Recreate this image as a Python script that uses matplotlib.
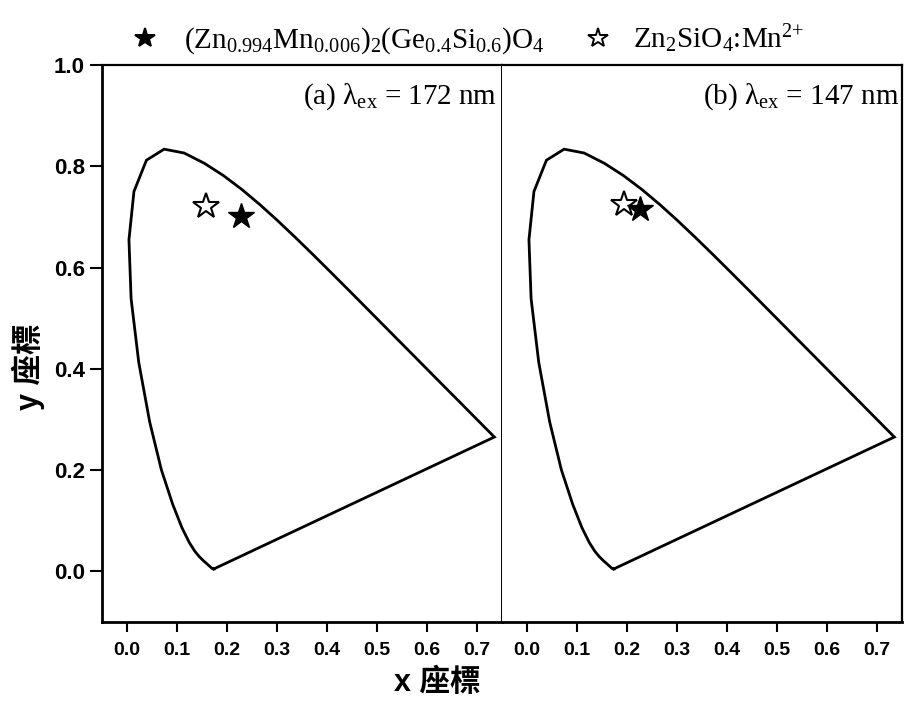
import numpy as np
import matplotlib
matplotlib.use("Agg")
import matplotlib.pyplot as plt
from matplotlib.lines import Line2D

plt.rcParams['mathtext.fontset'] = 'custom'
plt.rcParams['mathtext.rm'] = 'Liberation Serif'
plt.rcParams['mathtext.it'] = 'Liberation Serif:italic'

# CIE 1931 spectral locus (380-700 nm, 5 nm steps)
locus_x = [0.1741, 0.1740, 0.1738, 0.1736, 0.1733, 0.1730, 0.1726, 0.1721, 0.1714, 0.1703,
           0.1689, 0.1669, 0.1644, 0.1611, 0.1566, 0.1510, 0.1440, 0.1355, 0.1241, 0.1096,
           0.0913, 0.0687, 0.0454, 0.0235, 0.0082, 0.0039, 0.0139, 0.0389, 0.0743, 0.1142,
           0.1547, 0.1929, 0.2296, 0.2658, 0.3016, 0.3373, 0.3731, 0.4087, 0.4441, 0.4788,
           0.5125, 0.5448, 0.5752, 0.6029, 0.6270, 0.6482, 0.6658, 0.6801, 0.6915, 0.7006,
           0.7079, 0.7140, 0.7190, 0.7230, 0.7260, 0.7283, 0.7300, 0.7311, 0.7320, 0.7327,
           0.7334, 0.7340, 0.7344, 0.7346, 0.7347]
locus_y = [0.0050, 0.0050, 0.0049, 0.0049, 0.0048, 0.0048, 0.0048, 0.0048, 0.0051, 0.0058,
           0.0069, 0.0086, 0.0109, 0.0138, 0.0177, 0.0227, 0.0297, 0.0399, 0.0578, 0.0868,
           0.1327, 0.2007, 0.2950, 0.4127, 0.5384, 0.6548, 0.7502, 0.8120, 0.8338, 0.8262,
           0.8059, 0.7816, 0.7543, 0.7243, 0.6923, 0.6589, 0.6245, 0.5896, 0.5547, 0.5202,
           0.4866, 0.4544, 0.4242, 0.3965, 0.3725, 0.3514, 0.3340, 0.3197, 0.3083, 0.2993,
           0.2920, 0.2859, 0.2809, 0.2770, 0.2740, 0.2717, 0.2700, 0.2689, 0.2680, 0.2673,
           0.2666, 0.2660, 0.2656, 0.2654, 0.2653]

# CIE coordinates of the two phosphors in each panel
new_xy = [(0.228, 0.702), (0.225, 0.715)]   # (Zn,Mn)2(Ge,Si)O4
ref_xy = [(0.158, 0.722), (0.194, 0.725)]   # Zn2SiO4:Mn2+
panel_text = ['(a) λ$_{\\mathregular{ex}}$ = 172 nm', '(b) λ$_{\\mathregular{ex}}$ = 147 nm']
series_names = ['(Zn$_{0.994}$Mn$_{0.006}$)$_2$(Ge$_{0.4}$Si$_{0.6}$)O$_4$',
                'Zn$_2$SiO$_4$:Mn$^{2{+}}$']
xticks = [0.0, 0.1, 0.2, 0.3, 0.4, 0.5, 0.6, 0.7]
yticks = [0.0, 0.2, 0.4, 0.6, 0.8, 1.0]

W, H = 905, 708
fig = plt.figure(figsize=(W / 100, H / 100), dpi=100)
ax1 = fig.add_axes([102 / W, 86 / H, 400 / W, 557 / H])
ax2 = fig.add_axes([502 / W, 86 / H, 400 / W, 557 / H])

cx = locus_x + [locus_x[0]]
cy = locus_y + [locus_y[0]]

text_right = [0.9875, 0.9925]
for i, ax in enumerate([ax1, ax2]):
    ax.plot(cx, cy, color='black', lw=2, solid_joinstyle='miter')
    ax.plot(ref_xy[i][0], ref_xy[i][1], marker='*', ms=19, mfc='white',
            mec='black', mew=1.5, ls='none')
    ax.plot(new_xy[i][0], new_xy[i][1], marker='*', ms=19, mfc='black',
            mec='black', ls='none')
    ax.set_xlim(-0.05, 0.75)
    ax.set_ylim(-0.1, 1.0)
    ax.set_xticks(xticks)
    ax.set_xticklabels(['%.1f' % v for v in xticks], fontfamily='Liberation Sans',
                       fontweight='bold', fontsize=14)
    ax.tick_params(axis='x', direction='out', length=7.5, width=1.5, pad=7)
    ax.text(text_right[i], 1 - (104 - 65) / 557, panel_text[i], transform=ax.transAxes,
            ha='right', va='baseline', fontfamily='Liberation Serif', fontsize=21)
    ax.spines['bottom'].set_linewidth(2)
    ax.spines['top'].set_linewidth(1.6)

ax1.set_yticks(yticks)
ax1.set_yticklabels(['%.1f' % v for v in yticks], fontfamily='Liberation Sans',
                    fontweight='bold', fontsize=16)
ax1.tick_params(axis='y', direction='out', length=9, width=1.5, pad=3.5)
ax1.spines['left'].set_linewidth(2)
ax1.spines['right'].set_linewidth(1.4)
ax2.spines['left'].set_visible(False)
ax2.spines['right'].set_linewidth(1.6)
ax2.set_yticks([])

fig.text(437 / W, 1 - 683 / H, 'x 座標', ha='center', va='center', fontsize=22,
         fontweight='bold', family=['Liberation Sans', 'Noto Sans CJK TC'])
fig.text(28 / W, 1 - 367 / H, 'y 座標', ha='center', va='center', fontsize=22,
         rotation=90, fontweight='bold', family=['Liberation Sans', 'Noto Sans CJK TC'])

# legend row above the panels
key_x = [145, 598]
key_fill = ['black', 'white']
label_x = [184, 633]
for k in range(2):
    fig.add_artist(Line2D([key_x[k] / W], [1 - 38 / H], transform=fig.transFigure,
                          marker='*', ms=15, mfc=key_fill[k], mec='black', mew=1.4,
                          ls='none'))
    fig.text(label_x[k] / W, 1 - 48 / H, series_names[k], ha='left', va='baseline',
             fontfamily='Liberation Serif', fontsize=21)

fig.savefig('out.png', dpi=100)
